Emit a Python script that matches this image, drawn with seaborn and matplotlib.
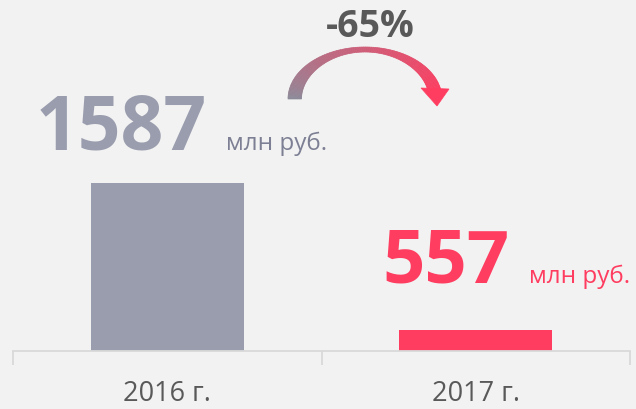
import numpy as np
import pandas as pd
import matplotlib
matplotlib.use("Agg")
import matplotlib.pyplot as plt
import seaborn as sns
from matplotlib.patches import Polygon

years = ["2016 г.", "2017 г."]
values = [1587, 557]
value_labels = ["1587", "557"]
unit_label = "млн руб."
change_label = "-65%"

bar_colors = ["#9a9dae", "#ff3d60"]
bg = "#f2f2f2"

sns.set_theme(style="white")
plt.rcParams["font.family"] = ["Open Sans", "DejaVu Sans"]

W, H = 636, 410
fig = plt.figure(figsize=(W / 100, H / 100), dpi=100, facecolor=bg)

# main axes: x from 13 to 630 px, y from 352 (baseline) to 10 px
ax = fig.add_axes([13 / W, (H - 352) / H, (630 - 13) / W, (352 - 10) / H])
ax.set_facecolor(bg)
df = pd.DataFrame({"year": years, "value": values})
sns.barplot(data=df, x="year", y="value", hue="year", palette=bar_colors,
            width=0.496, legend=False, ax=ax, saturation=1,
            linewidth=0, edgecolor="none")
ax.set_xlim(-0.5, 1.5)
ax.set_ylim(410, 2806)
ax.set_xlabel("")
ax.set_ylabel("")
ax.set_yticks([])
for s in ["top", "right", "left"]:
    ax.spines[s].set_visible(False)
ax.spines["bottom"].set_color("#d9d9d9")
ax.spines["bottom"].set_linewidth(1.3)
ax.set_xticks([0, 1])
ax.set_xticklabels(years, fontsize=19.5, color="#595959")
ax.tick_params(axis="x", which="major", length=0, pad=20, bottom=True)
ax.set_xticks([-0.5, 0.5, 1.5], minor=True)
ax.tick_params(axis="x", which="minor", length=10, width=1.3,
               color="#d9d9d9", bottom=True)

# overlay in pixel coordinates for annotations
ov = fig.add_axes([0, 0, 1, 1], zorder=5)
ov.set_xlim(0, W)
ov.set_ylim(H, 0)
ov.axis("off")
ov.patch.set_alpha(0)

ov.text(36, 150, value_labels[0], fontsize=54, fontweight="bold",
        color=bar_colors[0], ha="left", va="baseline")
ov.text(226, 150, unit_label, fontsize=17.5, color="#7d8094",
        ha="left", va="baseline")
ov.text(382, 283, value_labels[1], fontsize=53.5, fontweight="bold",
        color=bar_colors[1], ha="left", va="baseline")
ov.text(529, 283, unit_label, fontsize=17.5, color=bar_colors[1],
        ha="left", va="baseline")
ov.text(370, 37, change_label, fontsize=27, fontweight="bold",
        color="#595959", ha="center", va="baseline")

# curved gradient arrow
c0 = np.array(matplotlib.colors.to_rgb("#8b8b9a"))
c1 = np.array(matplotlib.colors.to_rgb("#ff3d60"))
cx, cy = 365, 100
rx, ry = 77, 52
n = 120
th = np.linspace(np.pi, np.deg2rad(5), n + 1)
w = np.where(th > np.pi / 2, 5 + 8.5 * np.cos(th) ** 2, 5 + 8 * np.cos(th) ** 2)
for i in range(n):
    t = (i / n) ** 0.8
    col = c0 * (1 - t) + c1 * t
    pts = []
    for j in (i, i + 1):
        pts.append((cx + rx * np.cos(th[j]), cy - ry * np.sin(th[j])))
    for j in (i + 1, i):
        pts.append((cx + (rx - w[j]) * np.cos(th[j]),
                    cy - (ry - w[j]) * np.sin(th[j])))
    ov.add_patch(Polygon(pts, closed=True, facecolor=col, edgecolor=col, lw=0.5))
ov.add_patch(Polygon([(421, 89), (449, 90), (437, 107)], closed=True,
                     facecolor=c1, edgecolor=c1, lw=0.5))

fig.savefig("out.png", dpi=100, facecolor=bg)
